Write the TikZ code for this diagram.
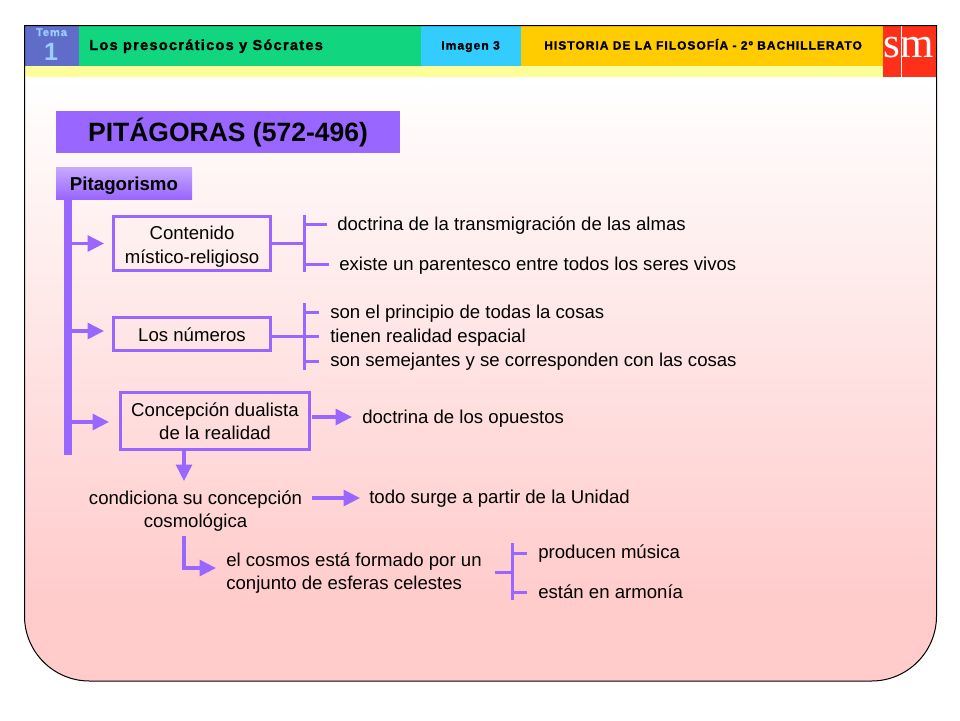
\documentclass[tikz,border=0pt]{standalone}
\usepackage{xcolor}
\usepackage{fontspec}
\usepackage{tikz}
\usetikzlibrary{arrows.meta}
\setmainfont{Liberation Sans}
\newfontfamily\headfont[LetterSpace=9,BoldFeatures={FakeBold=1.6}]{Liberation Sans}
\newfontfamily\logofont{Liberation Serif}
\definecolor{myPurple}{HTML}{9966FF}
\definecolor{myLilac}{HTML}{C8AAFF}
\definecolor{myPink}{HTML}{FFCBCB}
\definecolor{myGreen}{HTML}{11D67F}
\definecolor{myBlue}{HTML}{33CCFF}
\definecolor{myAmber}{HTML}{FFCC00}
\definecolor{myStrip}{HTML}{FFFF99}
\definecolor{myRed}{HTML}{FF3019}
\definecolor{myTema}{HTML}{5F6CC8}
\definecolor{mySky}{HTML}{99CCFF}
\pgfdeclareverticalshading{panelfade}{100bp}{color(0bp)=(myPink); color(31bp)=(myPink); color(71bp)=(white); color(100bp)=(white)}

\begin{document}
\begin{tikzpicture}[x=1pt,y=-1pt,>={Triangle[length=16.5pt,width=16pt]},semithick]
  \tikzstyle{box}=[draw=myPurple,line width=3pt,inner sep=0pt,align=center,font=\fontsize{18.6}{23.5}\selectfont]
  \tikzstyle{item}=[anchor=base west,inner sep=0pt,font=\fontsize{18.6}{23.5}\selectfont]
  \tikzstyle{twoline}=[inner sep=0pt,align=center,font=\fontsize{18.6}{23.5}\selectfont]
  \tikzstyle{band}=[inner sep=0pt,text=black]
  \tikzstyle{flow}=[draw=myPurple,line width=3.2pt]
  \tikzstyle{tick}=[draw=myPurple,line width=3pt]

  \useasboundingbox (0,0) rectangle (960,720);

  % background panel
  \shade[shading=panelfade]
    (24.5,25.5) -- (936.5,25.5) -- (936.5,616) arc (0:90:65) -- (89.5,681) arc (90:180:65) -- cycle;

  % header
  \fill[myStrip] (25,66) rectangle (883,77);
  \node[band,fill=myTema,minimum width=54pt,minimum height=41pt]  (tema)   at (52,45.5)  {};
  \node[band,fill=myGreen,minimum width=342pt,minimum height=41pt] (unit)  at (250,45.5) {};
  \node[band,fill=myBlue,minimum width=100pt,minimum height=41pt]  (image) at (471,45.5) {};
  \node[band,fill=myAmber,minimum width=362pt,minimum height=41pt] (subject) at (702,45.5) {};
  \node[band,fill=myRed,minimum width=53pt,minimum height=52pt]    (logo)  at (909.5,51) {};
  \draw[white,line width=1pt] (901,26) -- (901,77);
  \draw[black,line width=1pt] (24.5,25.5) -- (936.5,25.5) -- (936.5,616) arc (0:90:65) -- (89.5,681) arc (90:180:65) -- cycle;

  \node[band,text=mySky,anchor=base] (tematxt) at (51.5,36) {\fontsize{11}{12}\headfont\bfseries Tema};
  \node[band,text=mySky,anchor=base] (temanum) at (51,60) {\fontsize{25}{30}\selectfont\bfseries 1};
  \node[band,anchor=base west] (unittxt) at (89,50) {\fontsize{14.5}{16}\headfont\bfseries Los presocráticos y Sócrates};
  \node[band,anchor=base west] (imagetxt) at (441,49.5) {\fontsize{12}{12}\headfont\bfseries Imagen 3};
  \node[band,anchor=base west] (subjecttxt) at (544,49.5) {\fontsize{11.9}{12}\headfont\bfseries HISTORIA DE LA FILOSOFÍA - 2º BACHILLERATO};
  \node[band,text=white,anchor=base] (logotxt) at (909,57) {\fontsize{43}{43}\logofont sm};

  % title
  \node[band,fill=myPurple,minimum width=344pt,minimum height=42pt] (title) at (228,132) {\raisebox{-9.7pt}[0pt][0pt]{\fontsize{26.5}{30}\selectfont\bfseries PITÁGORAS (572-496)}};
  \node[band,top color=myLilac,bottom color=myPurple,minimum width=136pt,minimum height=32pt] (pita) at (124,183) {\raisebox{-7pt}[0pt][0pt]{\fontsize{18.7}{20}\selectfont\bfseries Pitagorismo}};

  % boxes
  \node[box,minimum width=157pt,minimum height=54pt] (content) at (192,243.5) {\rule{0pt}{20pt}Contenido\\místico-religioso};
  \node[box,minimum width=157pt,minimum height=33pt] (numbers) at (192,334.3) {Los números};
  \node[box,minimum width=189pt,minimum height=57pt] (dual)    at (215,421)   {Concepción dualista\\de la realidad};
  \node[twoline] (cond) at (195.5,511) {condiciona su concepción\\cosmológica};

  % texts
  \node[item] (soul)  at (337,230.5) {doctrina de la transmigración de las almas};
  \node[item] (kin)   at (339,270.5) {existe un parentesco entre todos los seres vivos};
  \node[item] (princ) at (330,318.5) {son el principio de todas la cosas};
  \node[item] (space) at (330,342.5) {tienen realidad espacial};
  \node[item] (alike) at (330,366.5) {son semejantes y se corresponden con las cosas};
  \node[item] (opp)   at (362,423.5) {doctrina de los opuestos};
  \node[item] (unity) at (369,503.5) {todo surge a partir de la Unidad};
  \node[twoline,anchor=west,align=left] (cosmos) at (226,573) {el cosmos está formado por un\\conjunto de esferas celestes};
  \node[item] (music) at (538,558.5) {producen música};
  \node[item] (harm)  at (538,598.5) {están en armonía};

  % trunk
  \coordinate (trunktop) at (68,199);
  \coordinate (trunkend) at (68,455);
  \draw[myPurple,line width=8pt] (trunktop) -- (trunkend);
  \coordinate (b1) at (72,243.5);
  \coordinate (b2) at (72,331);
  \coordinate (b3) at (72,422);
  \draw[flow,->,shorten >=8pt] (b1) -- (content.west);
  \draw[flow,->,shorten >=8pt] (b2) -- (b2 -| numbers.west);
  \draw[flow,->,shorten >=10pt] (b3) -- (b3 -| dual.west);

  % first bracket
  \coordinate (j1) at (304,243.5);
  \coordinate (t1) at (304,215);
  \coordinate (u1) at (304,272);
  \coordinate (k1) at (304,224);
  \coordinate (k2) at (304,264);
  \coordinate (e1a) at (327,224);
  \coordinate (e1b) at (329,264);
  \draw[tick] (content.east) -- (j1);
  \draw[tick] (t1) -- (u1);
  \draw[tick] (k1) -- (e1a);
  \draw[tick] (k2) -- (e1b);

  % second bracket
  \coordinate (j2) at (304,336);
  \coordinate (t2) at (304,303);
  \coordinate (u2) at (304,370);
  \coordinate (k3) at (304,312);
  \coordinate (k4) at (304,361);
  \coordinate (e2a) at (319,312);
  \coordinate (e2b) at (319,336);
  \coordinate (e2c) at (319,361);
  \draw[tick] (numbers.east |- j2) -- (j2);
  \draw[tick] (t2) -- (u2);
  \draw[tick] (k3) -- (e2a);
  \draw[tick] (j2) -- (e2b);
  \draw[tick] (k4) -- (e2c);

  % dual arrows
  \coordinate (o1) at (312,417);
  \draw[flow,->,shorten >=10pt] (o1) -- (opp.west |- o1);
  \coordinate (d2) at (184,481);
  \draw[flow,->] (dual.south -| d2) -- (d2);
  \coordinate (c1) at (312,498);
  \draw[flow,->,shorten >=9pt] (c1) -- (unity.west |- c1);

  % elbow
  \coordinate (c2) at (184,536);
  \coordinate (c3) at (226,568);
  \draw[flow,->,shorten >=10pt] (c2) |- (c3);

  % third bracket
  \coordinate (j3) at (512,572);
  \coordinate (s3) at (495,572);
  \coordinate (t3) at (512,543);
  \coordinate (u3) at (512,600);
  \coordinate (k5) at (512,553);
  \coordinate (k6) at (512,592);
  \coordinate (e3a) at (527,553);
  \coordinate (e3b) at (527,592);
  \draw[tick] (s3) -- (j3);
  \draw[tick] (t3) -- (u3);
  \draw[tick] (k5) -- (e3a);
  \draw[tick] (k6) -- (e3b);
\end{tikzpicture}
\end{document}
